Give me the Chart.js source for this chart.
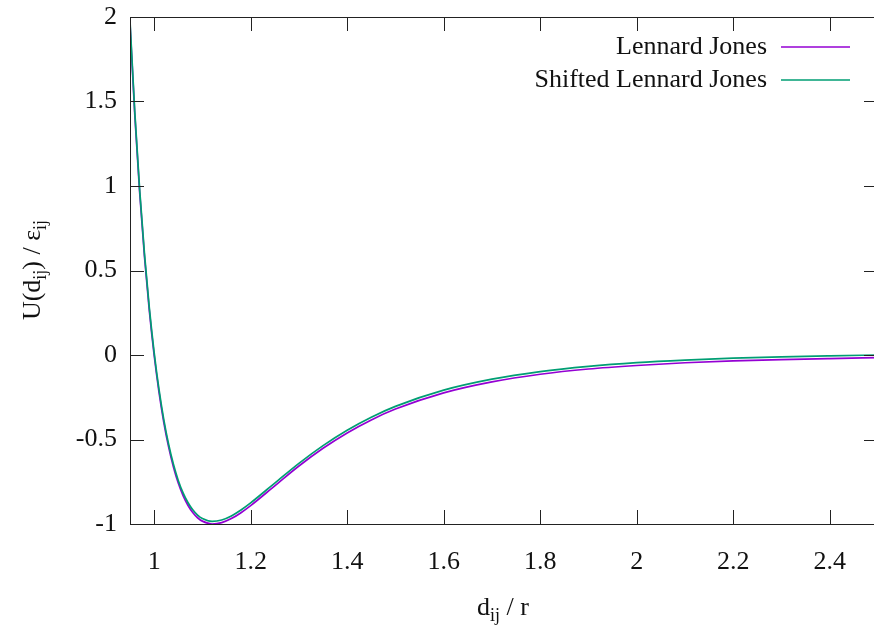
<!DOCTYPE html>
<html>
<head>
<meta charset="utf-8">
<script src="https://cdn.jsdelivr.net/npm/chart.js@4"></script>
<style>
  html, body { margin: 0; padding: 0; background: #fff; overflow: hidden; }
  #wrap { width: 884px; height: 627px; }
</style>
</head>
<body>
<div id="wrap"><canvas id="ljChart"></canvas></div>
<script>
// values
const distances = [0.95, 0.96, 0.97, 0.98, 0.99, 1.0, 1.01, 1.02, 1.03, 1.04, 1.05, 1.06, 1.07, 1.08,
  1.09, 1.1, 1.12, 1.14, 1.16, 1.18, 1.2, 1.25, 1.3, 1.35, 1.4, 1.45, 1.5, 1.6, 1.7, 1.8, 1.9,
  2.0, 2.1, 2.2, 2.3, 2.4, 2.5];
const ljValues = [1.96, 1.418, 0.963, 0.582, 0.264, 0.0, -0.218, -0.398, -0.544, -0.663, -0.758,
  -0.832, -0.889, -0.932, -0.963, -0.983, -1.0, -0.992, -0.968, -0.933, -0.891, -0.774, -0.657,
  -0.552, -0.461, -0.384, -0.320, -0.224, -0.159, -0.114, -0.083, -0.062, -0.046, -0.035,
  -0.027, -0.021, -0.016];
const shiftedValues = [1.976, 1.434, 0.979, 0.598, 0.280, 0.016, -0.202, -0.382, -0.528, -0.647,
  -0.742, -0.816, -0.873, -0.916, -0.947, -0.967, -0.984, -0.976, -0.952, -0.917, -0.875, -0.758,
  -0.641, -0.536, -0.445, -0.368, -0.304, -0.208, -0.143, -0.098, -0.067, -0.045, -0.030,
  -0.019, -0.011, -0.005, 0.0];
const xTickValues = [1, 1.2, 1.4, 1.6, 1.8, 2, 2.2, 2.4];
const yTickValues = [-1, -0.5, 0, 0.5, 1, 1.5, 2];

const FONT = "'Liberation Serif', 'DejaVu Serif', serif";
const FONT_SIZE = 26;
const AXIS_COLOR = "#222";

function toPoints(values) {
  return distances.map((d, i) => ({ x: d, y: values[i] }));
}

// text with subscript parts, pieces = [[text, isSub], ...]
function drawRich(ctx, pieces, x, y, align) {
  const subSize = Math.round(FONT_SIZE * 0.7);
  let total = 0;
  pieces.forEach(([t, sub]) => {
    ctx.font = (sub ? subSize : FONT_SIZE) + "px " + FONT;
    total += ctx.measureText(t).width;
  });
  let cx = align === "center" ? x - total / 2 : (align === "right" ? x - total : x);
  pieces.forEach(([t, sub]) => {
    ctx.font = (sub ? subSize : FONT_SIZE) + "px " + FONT;
    ctx.fillText(t, cx, sub ? y + 6 : y);
    cx += ctx.measureText(t).width;
  });
}

const framePlugin = {
  id: "gnuplotFrame",
  afterDatasetsDraw(chart) {
    const { ctx, chartArea: a, scales } = chart;
    const len = 14;
    ctx.save();
    ctx.strokeStyle = AXIS_COLOR;
    ctx.lineWidth = 1;
    ctx.strokeRect(a.left + 0.5, a.top + 0.5, a.right - a.left, a.bottom - a.top);
    ctx.beginPath();
    xTickValues.forEach((v) => {
      const px = Math.round(scales.x.getPixelForValue(v)) + 0.5;
      ctx.moveTo(px, a.bottom); ctx.lineTo(px, a.bottom - len);
      ctx.moveTo(px, a.top); ctx.lineTo(px, a.top + len);
    });
    yTickValues.forEach((v) => {
      const py = Math.round(scales.y.getPixelForValue(v)) + 0.5;
      ctx.moveTo(a.left, py); ctx.lineTo(a.left + len, py);
      ctx.moveTo(a.right, py); ctx.lineTo(a.right - len, py);
    });
    ctx.stroke();

    // legend, gnuplot style: text right aligned, sample line after it
    ctx.fillStyle = "#111";
    ctx.textBaseline = "middle";
    ctx.font = FONT_SIZE + "px " + FONT;
    ctx.textAlign = "right";
    [0, 1].forEach((i) => {
      const ds = chart.data.datasets[i];
      const y = 47 + i * 33;
      ctx.fillText(ds.label, 767, y);
      ctx.strokeStyle = ds.borderColor;
      ctx.lineWidth = 1.5;
      ctx.beginPath();
      ctx.moveTo(781, y); ctx.lineTo(850, y);
      ctx.stroke();
    });

    // axis titles
    ctx.textAlign = "left";
    ctx.textBaseline = "alphabetic";
    drawRich(ctx, [["d", false], ["ij", true], [" / r", false]], 503, 615, "center");
    ctx.translate(40, 270);
    ctx.rotate(-Math.PI / 2);
    drawRich(ctx, [["U(d", false], ["ij", true], [") / \u03b5", false], ["ij", true]], 0, 0, "center");
    ctx.restore();
  }
};

const ctx = document.getElementById("ljChart").getContext("2d");
new Chart(ctx, {
  type: "line",
  data: {
    datasets: [
      {
        label: "Lennard Jones",
        data: toPoints(ljValues),
        borderColor: "#9400d3",
        borderWidth: 1.7,
        pointRadius: 0,
        cubicInterpolationMode: "monotone",
        order: 1,
      },
      {
        label: "Shifted Lennard Jones",
        data: toPoints(shiftedValues),
        borderColor: "#009e73",
        borderWidth: 1.7,
        pointRadius: 0,
        cubicInterpolationMode: "monotone",
        order: 0,
      },
    ],
  },
  options: {
    responsive: true,
    maintainAspectRatio: false,
    animation: false,
    layout: { padding: { left: 0, top: 17, right: 6, bottom: 0 } },
    plugins: { legend: { display: false }, tooltip: { enabled: false } },
    scales: {
      x: {
        type: "linear",
        min: 0.95,
        max: 2.5,
        afterBuildTicks: (s) => { s.ticks = xTickValues.map((v) => ({ value: v })); },
        afterFit: (s) => { s.height = 103; s.paddingLeft = 0; s.paddingRight = 0; },
        grid: { display: false, drawTicks: false },
        border: { display: false },
        ticks: {
          padding: 23,
          color: "#111",
          font: { family: FONT, size: FONT_SIZE },
          maxRotation: 0,
          callback: (v) => String(v),
        },
      },
      y: {
        min: -1,
        max: 2,
        afterBuildTicks: (s) => { s.ticks = yTickValues.map((v) => ({ value: v })); },
        afterFit: (s) => { s.width = 130; s.paddingTop = 0; s.paddingBottom = 0; },
        grid: { display: false, drawTicks: false },
        border: { display: false },
        ticks: {
          padding: 13,
          color: "#111",
          font: { family: FONT, size: FONT_SIZE },
          callback: (v) => String(v),
        },
      },
    },
  },
  plugins: [framePlugin],
});
</script>
</body>
</html>
